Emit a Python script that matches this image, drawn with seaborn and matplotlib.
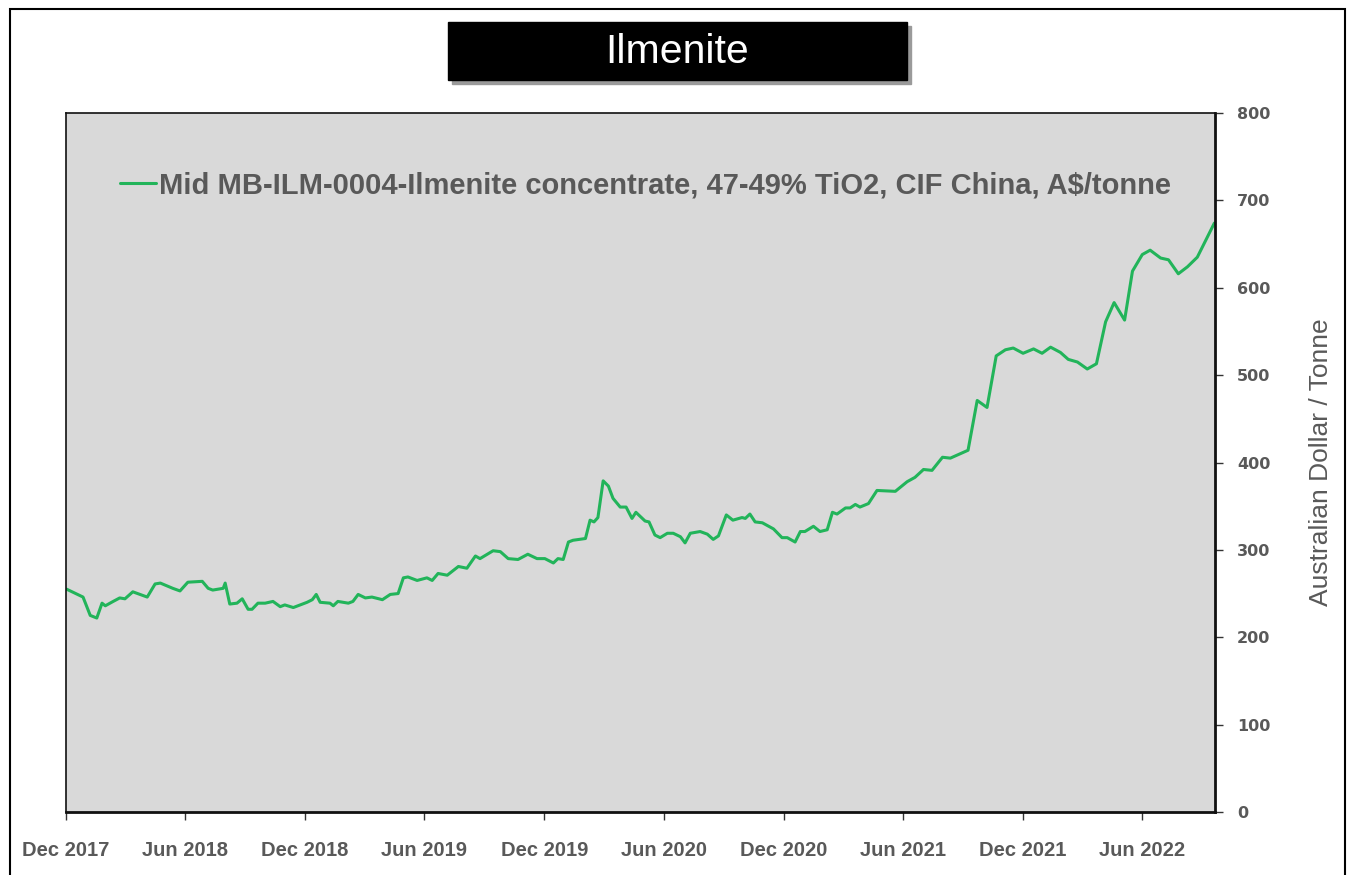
import pandas as pd
import matplotlib.pyplot as plt
import matplotlib.dates as mdates
from matplotlib.patches import Rectangle
import seaborn as sns

# Datos (A$/tonne)
fechas = [
    "2017-12-02", "2017-12-27", "2018-01-07", "2018-01-17", "2018-01-25", "2018-01-30",
    "2018-02-11", "2018-02-21", "2018-03-01", "2018-03-13", "2018-04-04", "2018-04-16",
    "2018-04-24", "2018-05-13", "2018-05-24", "2018-06-05", "2018-06-27", "2018-07-06",
    "2018-07-13", "2018-07-29", "2018-08-01", "2018-08-08", "2018-08-19", "2018-08-27",
    "2018-09-05", "2018-09-11", "2018-09-20", "2018-10-01", "2018-10-13", "2018-10-24",
    "2018-10-31", "2018-11-13", "2018-12-04", "2018-12-12", "2018-12-18", "2018-12-24",
    "2019-01-08", "2019-01-13", "2019-01-20", "2019-02-05", "2019-02-12", "2019-02-20",
    "2019-03-03", "2019-03-13", "2019-03-29", "2019-04-10", "2019-04-22", "2019-04-30",
    "2019-05-07", "2019-05-21", "2019-06-05", "2019-06-13", "2019-06-22", "2019-07-06",
    "2019-07-23", "2019-08-05", "2019-08-18", "2019-08-25", "2019-09-14", "2019-09-25",
    "2019-10-07", "2019-10-22", "2019-11-06", "2019-11-20", "2019-12-02", "2019-12-15",
    "2019-12-22", "2019-12-30", "2020-01-07", "2020-01-14", "2020-02-02", "2020-02-09",
    "2020-02-15", "2020-02-21", "2020-02-29", "2020-03-08", "2020-03-15", "2020-03-26",
    "2020-04-04", "2020-04-13", "2020-04-19", "2020-05-03", "2020-05-09", "2020-05-18",
    "2020-05-26", "2020-06-06", "2020-06-15", "2020-06-26", "2020-07-03", "2020-07-11",
    "2020-07-26", "2020-08-06", "2020-08-15", "2020-08-23", "2020-09-04", "2020-09-14",
    "2020-09-28", "2020-10-03", "2020-10-10", "2020-10-18", "2020-10-29", "2020-11-15",
    "2020-11-28", "2020-12-06", "2020-12-18", "2020-12-26", "2021-01-02", "2021-01-15",
    "2021-01-25", "2021-02-05", "2021-02-13", "2021-02-20", "2021-03-05", "2021-03-12",
    "2021-03-20", "2021-03-27", "2021-04-09", "2021-04-22", "2021-05-20", "2021-06-07",
    "2021-06-19", "2021-07-02", "2021-07-15", "2021-07-31", "2021-08-12", "2021-08-27",
    "2021-09-08", "2021-09-22", "2021-10-07", "2021-10-21", "2021-11-04", "2021-11-16",
    "2021-12-01", "2021-12-17", "2021-12-30", "2022-01-12", "2022-01-27", "2022-02-08",
    "2022-02-22", "2022-03-09", "2022-03-23", "2022-04-06", "2022-04-19", "2022-05-05",
    "2022-05-17", "2022-06-01", "2022-06-13", "2022-06-29", "2022-07-11", "2022-07-26",
    "2022-08-09", "2022-08-24", "2022-09-19",
]
precios = [
    255, 246, 225, 222, 239, 236,
    241, 245, 244, 252, 246, 261,
    262, 256, 253, 263, 264, 256,
    254, 256, 262, 238, 239, 244,
    232, 232, 239, 239, 241, 235,
    237, 234, 240, 243, 249, 240,
    239, 236, 241, 239, 241, 249,
    245, 246, 243, 249, 250, 268,
    269, 265, 268, 265, 273, 271,
    281, 279, 293, 290, 299, 298,
    290, 289, 295, 290, 290, 285,
    290, 289, 309, 311, 313, 334,
    332, 337, 379, 373, 359, 349,
    349, 336, 343, 333, 332, 317,
    314, 319, 319, 315, 308, 319,
    321, 318, 312, 316, 340, 334,
    337, 336, 341, 332, 331, 324,
    314, 314, 309, 321, 321, 327,
    321, 323, 343, 341, 348, 348,
    352, 349, 353, 368, 367, 378,
    383, 392, 391, 406, 405, 410,
    414, 471, 463, 522, 529, 531,
    525, 530, 525, 532, 526, 518,
    515, 507, 513, 561, 583, 563,
    619, 638, 643, 634, 632, 616,
    624, 635, 674,
]
serie = "Mid MB-ILM-0004-Ilmenite concentrate, 47-49% TiO2, CIF China, A\\$/tonne"

df = pd.DataFrame({"fecha": pd.to_datetime(fechas), "precio": precios})

sns.set_style("white")
plt.rcParams["font.family"] = ["Liberation Sans", "DejaVu Sans"]
gris = "#595959"

fig = plt.figure(figsize=(13.5, 8.75), dpi=100)
ax = fig.add_axes([66 / 1350, 1 - 812 / 875, (1215 - 66) / 1350, (812 - 113) / 875])
ax.set_facecolor("#d9d9d9")

sns.lineplot(data=df, x="fecha", y="precio", ax=ax, color="#22b45a", linewidth=2.2, label=serie)

ax.set_xlim(pd.Timestamp("2017-12-01"), pd.Timestamp("2022-09-20"))
ax.set_ylim(0, 800)
ax.xaxis.set_major_locator(mdates.MonthLocator(bymonth=[6, 12]))
ax.xaxis.set_major_formatter(mdates.DateFormatter("%b %Y"))
ax.yaxis.tick_right()
ax.yaxis.set_label_position("right")
ax.set_yticks(range(0, 801, 100))

for s in ax.spines.values():
    s.set_color("#111111")
    s.set_linewidth(1.2)
ax.spines["right"].set_linewidth(2)
ax.spines["bottom"].set_linewidth(2)

ax.tick_params(axis="x", direction="out", length=6, width=1, color="#333333",
               labelsize=14.5, labelcolor=gris, pad=15, bottom=True)
ax.tick_params(axis="y", direction="out", length=6, width=1, color="#333333",
               labelsize=11.5, labelcolor=gris, pad=10, right=True, left=False)
for t in ax.get_xticklabels():
    t.set_fontweight("bold")
for t in ax.get_yticklabels():
    t.set_fontweight("bold")
    t.set_family(["DejaVu Sans"])

ax.set_xlabel("")
ax.set_ylabel("Australian Dollar / Tonne", fontsize=19, color=gris, labelpad=28)

leg = ax.legend(loc="center left", bbox_to_anchor=(0.047, 0.896), frameon=False,
                borderaxespad=0, borderpad=0, handlelength=1.25, handletextpad=0.1,
                fontsize=21)
for t in leg.get_texts():
    t.set_color(gris)
    t.set_fontweight("bold")

# Caja del titulo con sombra
fig.patches.append(Rectangle((452 / 1350, 1 - 84 / 875), 459 / 1350, 58 / 875,
                             transform=fig.transFigure, color="#9a9a9a", zorder=1))
fig.patches.append(Rectangle((448 / 1350, 1 - 80 / 875), 459 / 1350, 58 / 875,
                             transform=fig.transFigure, color="black", zorder=2))
fig.text((448 + 459 / 2) / 1350, 1 - 52 / 875, "Ilmenite", color="white", fontsize=29.5,
         ha="center", va="center", zorder=3)

# Marco exterior
fig.patches.append(Rectangle((10 / 1350, -0.01), 1335 / 1350, 1 - 9 / 875 + 0.01,
                             transform=fig.transFigure, fill=False, edgecolor="black",
                             linewidth=1.5, zorder=0))

fig.savefig("out.png", dpi=100)
plt.close(fig)
